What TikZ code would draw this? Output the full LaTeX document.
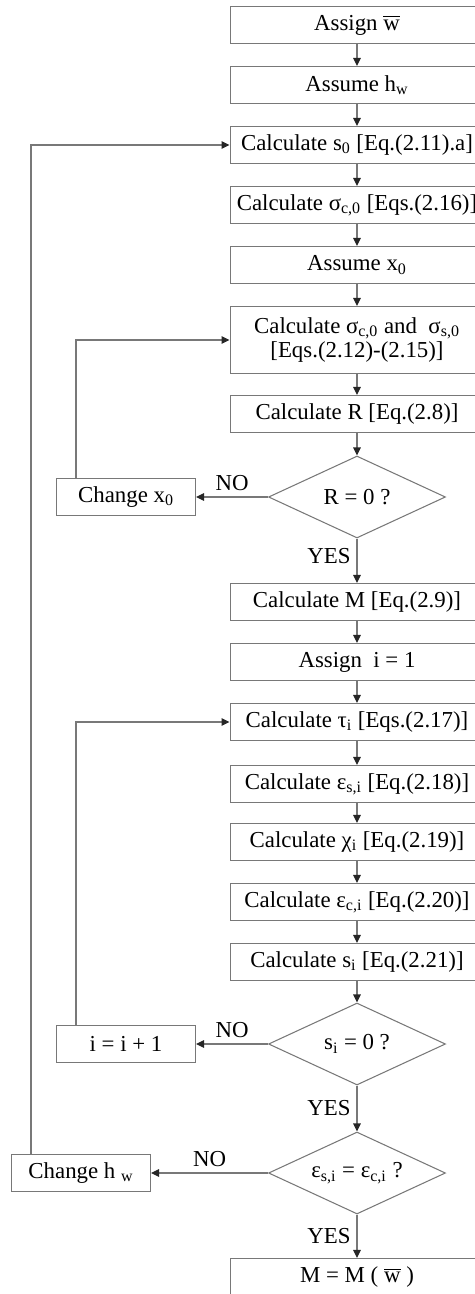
\documentclass[tikz,border=0pt]{standalone}
\usepackage{fontspec,amsmath}
\setmainfont{Liberation Serif}
\usetikzlibrary{arrows.meta,positioning,shapes.geometric}
\definecolor{fcline}{RGB}{120,120,120}
\newcommand{\sbs}[1]{\textsubscript{#1}}
\newcommand{\wbar}{\mbox{$\overline{\text{w}}$}}

\begin{document}
\begin{tikzpicture}[
  x=0.02cm,y=-0.02cm,
  box/.style={draw=fcline,line width=0.6pt,minimum width=5.08cm,minimum height=0.74cm,
    inner sep=1pt,font=\fontsize{13}{14}\selectfont,align=center},
  sbox/.style={box,minimum width=2.78cm},
  test/.style={draw=fcline,line width=0.6pt,diamond,aspect=2.18,minimum width=3.54cm,
    minimum height=1.64cm,inner sep=0pt,font=\fontsize{13}{14}\selectfont},
  arr/.style={-{Triangle[length=1.6mm,width=1.5mm,color=black!85]},line width=0.6pt,fcline},
  lbl/.style={font=\fontsize{13}{14}\selectfont,text=black}
]
  \useasboundingbox (0,0) rectangle (475,1294);
  % Main column
  \node[box] (w) at (357,25) {Assign \wbar};
  \node[box] (hw) at (357,85) {Assume h\sbs{w}};
  \node[box] (s0) at (357,145) {Calculate s\sbs{0} [Eq.(2.11).a]};
  \node[box] (sc) at (357,205) {Calculate σ\sbs{c,0} [Eqs.(2.16)]};
  \node[box] (x0) at (357,265) {Assume x\sbs{0}};
  \node[box,minimum height=1.34cm] (sig) at (357,340) {Calculate σ\sbs{c,0} and \ σ\sbs{s,0}\\\relax[Eqs.(2.12)-(2.15)]};
  \node[box] (r) at (357,414) {Calculate R [Eq.(2.8)]};
  \node[test] (dr) at (357,497) {R = 0 ?};
  \node[box] (m) at (357,602) {Calculate M [Eq.(2.9)]};
  \node[box] (i1) at (357,662) {Assign \ i = 1};
  \node[box] (tau) at (357,722) {Calculate τ\sbs{i} [Eqs.(2.17)]};
  \node[box] (es) at (357,784) {Calculate ε\sbs{s,i} [Eq.(2.18)]};
  \node[box] (chi) at (357,842) {Calculate χ\sbs{i} [Eq.(2.19)]};
  \node[box] (ec) at (357,902) {Calculate ε\sbs{c,i} [Eq.(2.20)]};
  \node[box] (si) at (357,962) {Calculate s\sbs{i} [Eq.(2.21)]};
  \node[test] (ds) at (357,1044) {s\sbs{i} = 0 ?};
  \node[test] (de) at (357,1173) {ε\sbs{s,i} = ε\sbs{c,i} ?};
  \node[box] (mw) at (357,1277) {M = M ( \wbar\ )};
  % Side boxes
  \node[sbox] (chx) at (126,497) {Change x\sbs{0}};
  \node[sbox] (inc) at (126,1044) {i = i + 1};
  \node[sbox] (chh) at (81,1173) {Change h \sbs{w}};
  \coordinate (inner) at (76,0);
  \coordinate (outer) at (31,0);
  % Arrows
  \draw[arr] (w) -- (hw);
  \draw[arr] (hw) -- (s0);
  \draw[arr] (s0) -- (sc);
  \draw[arr] (sc) -- (x0);
  \draw[arr] (x0) -- (sig);
  \draw[arr] (sig) -- (r);
  \draw[arr] (r) -- (dr);
  \draw[arr] (dr) -- node[lbl,left,pos=0.4] {YES} (m);
  \draw[arr] (m) -- (i1);
  \draw[arr] (i1) -- (tau);
  \draw[arr] (tau) -- (es);
  \draw[arr] (es) -- (chi);
  \draw[arr] (chi) -- (ec);
  \draw[arr] (ec) -- (si);
  \draw[arr] (si) -- (ds);
  \draw[arr] (ds) -- node[lbl,left] {YES} (de);
  \draw[arr] (de) -- node[lbl,left] {YES} (mw);
  % NO branches
  \draw[arr] (dr.west) -- node[lbl,above,pos=0.5] {NO} (chx);
  \draw[arr] (ds.west) -- node[lbl,above,pos=0.5] {NO} (inc);
  \draw[arr] (de.west) -- node[lbl,above,pos=0.5] {NO} (chh);
  % Loops back
  \draw[arr] (chx.north -| inner) |- (sig.west);
  \draw[arr] (inc.north -| inner) |- (tau.west);
  \draw[arr] (chh.north -| outer) |- (s0.west);
\end{tikzpicture}
\end{document}
